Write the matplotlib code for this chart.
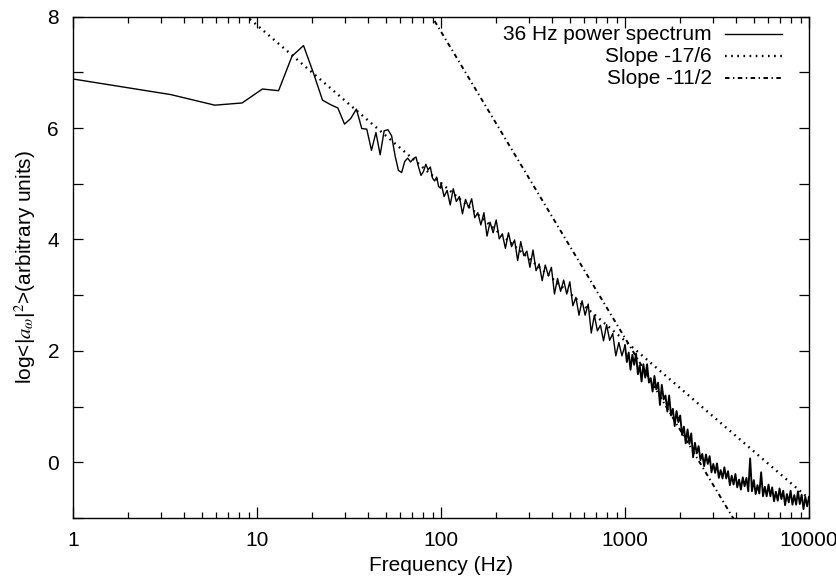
import matplotlib
matplotlib.use('Agg')
import matplotlib.pyplot as plt
from matplotlib.lines import Line2D
from matplotlib.ticker import FixedLocator, NullFormatter, LogLocator
import numpy as np

# ---------------- data ----------------
# low-frequency part of the 36 Hz power spectrum (native resolution ~2.4 Hz)
low_freq = [1.0, 3.4, 5.9, 8.3, 10.7, 13.1, 15.5, 17.9, 20.3, 22.7,
            25.1, 27.5, 29.9, 32.3, 34.7, 37.1, 39.5, 41.9, 44.3, 46.7,
            49.1, 51.5, 53.9, 56.3, 58.7, 61.1, 63.5, 65.9, 68.3, 70.7,
            73.1, 75.5, 77.9, 80.3, 82.7, 85.1, 87.5, 89.9, 92.3, 94.7,
            97.1, 99.5]
low_power = [6.88, 6.60, 6.41, 6.45, 6.70, 6.67, 7.29, 7.48, 6.98, 6.50,
             6.42, 6.36, 6.07, 6.17, 6.34, 5.99, 5.98, 5.60, 5.92, 5.52,
             5.95, 5.97, 5.86, 5.50, 5.24, 5.20, 5.40, 5.46, 5.39, 5.45,
             5.48, 5.30, 5.15, 5.22, 5.35, 5.25, 5.30, 5.10, 5.05, 5.12,
             4.95, 4.92]

# 100 Hz - 1 kHz, read at 60 samples per decade
mid_power = [5.02, 4.77, 4.88, 4.62, 4.91, 4.68, 4.77, 4.46, 4.72, 4.57,
             4.73, 4.39, 4.48, 4.26, 4.48, 4.06, 4.31, 4.12, 4.35, 4.01,
             4.10, 3.84, 4.12, 3.87, 3.99, 3.62, 3.96, 3.71, 3.79, 3.50,
             3.81, 3.44, 3.56, 3.26, 3.54, 3.35, 3.50, 3.02, 3.30, 3.07,
             3.27, 3.02, 3.24, 2.81, 2.96, 2.64, 2.90, 2.64, 2.84, 2.32,
             2.64, 2.36, 2.46, 2.18, 2.47, 2.19, 2.31, 1.91, 2.15, 1.91]

# 1 kHz - 10 kHz, read at 100 samples per decade
high_power = [2.10, 1.80, 1.97, 1.66, 1.93, 1.75, 1.95, 1.58, 1.74, 1.45,
              1.76, 1.52, 1.76, 1.43, 1.51, 1.27, 1.55, 1.31, 1.43, 1.03,
              1.39, 1.13, 1.20, 0.91, 1.20, 0.84, 0.96, 0.65, 0.92, 0.72,
              0.84, 0.49, 0.64, 0.34, 0.59, 0.33, 0.52, 0.09, 0.35, 0.16,
              0.29, 0.04, 0.15, -0.07, 0.14, -0.03, 0.11, -0.18, -0.03, -0.19,
              -0.02, -0.28, -0.14, -0.29, -0.09, -0.29, -0.16, -0.41, -0.24, -0.40,
              -0.21, -0.45, -0.31, -0.49, -0.27, -0.43, -0.28, -0.52, 0.07, -0.52,
              -0.32, -0.57, -0.41, -0.56, -0.18, -0.61, -0.44, -0.61, -0.40, -0.61,
              -0.45, -0.70, -0.53, -0.69, -0.47, -0.66, -0.51, -0.77, -0.57, -0.72,
              -0.51, -0.76, -0.59, -0.76, -0.52, -0.75, -0.58, -0.84, -0.62, -0.79,
              -0.62]

# reference power-law lines:  y = intercept + slope * log10(f)
slope_a, intercept_a = -17.0 / 6.0, 10.68
slope_b, intercept_b = -11.0 / 2.0, 18.73

labels = ["36 Hz power spectrum", "Slope -17/6", "Slope -11/2"]
xticks = [1, 10, 100, 1000, 10000]
xticklabels = ["1", "10", "100", "1000", "10000"]
yticks = [0, 2, 4, 6, 8]

# ---------------- assemble ----------------
mid_freq = np.logspace(2, 3, len(mid_power), endpoint=False)
high_freq = np.logspace(3, 4, len(high_power))
freq_lo = np.concatenate([low_freq, mid_freq, high_freq[:1]])
power_lo = np.concatenate([low_power, mid_power, high_power[:1]])

plt.rcParams['font.family'] = ['Liberation Sans', 'DejaVu Sans']
plt.rcParams['mathtext.fontset'] = 'stix'

W, H = 837, 581
FS = 15
fig = plt.figure(figsize=(W / 100, H / 100), dpi=100)
ax = fig.add_axes([73 / W, 1 - 518 / H, (809 - 73) / W, (518 - 16.6) / H])

# the densely sampled upper band appears heavier in the original
ax.plot(freq_lo, power_lo, color='black', lw=1.0)
ax.plot(high_freq, high_power, color='black', lw=1.35)

dot_style = dict(lw=1.7, linestyle=(0, (0.7, 1.9)))
dashdot_style = dict(lw=1.4, linestyle=(0, (2.3, 1.8, 0.7, 1.8)))

fline = np.array([1.0, 10000.0])
ax.plot(fline, intercept_a + slope_a * np.log10(fline), color='black', **dot_style)
ax.plot(fline, intercept_b + slope_b * np.log10(fline), color='black', **dashdot_style)

ax.set_xscale('log')
ax.set_xlim(1, 10000)
ax.set_ylim(-1, 8)
ax.set_xticks(xticks)
ax.set_xticklabels(xticklabels)
ax.xaxis.set_minor_locator(LogLocator(base=10, subs=np.arange(2, 10)))
ax.xaxis.set_minor_formatter(NullFormatter())
ax.set_yticks(yticks)
ax.yaxis.set_minor_locator(FixedLocator([-1, 1, 3, 5, 7]))

ax.tick_params(which='both', direction='in', top=True, right=True,
               labelsize=FS, width=0.9, color='black')
ax.tick_params(axis='x', which='major', length=8, pad=9)
ax.tick_params(axis='x', which='minor', length=4)
ax.tick_params(axis='y', which='major', length=7, pad=10)
ax.tick_params(axis='y', which='minor', length=7)
for s in ax.spines.values():
    s.set_linewidth(1.0)

ax.set_xlabel('Frequency (Hz)', fontsize=FS, labelpad=5)
ax.set_ylabel(r'log<|$a_\omega$|$^{2}$>(arbitrary units)', fontsize=FS, labelpad=7)

# gnuplot-style key: right-aligned text, sample line to its right
styles = [dict(lw=1.0, linestyle='-'), dot_style, dashdot_style]
for k, (lab, st) in enumerate(zip(labels, styles)):
    yy = 1 - (34 + 22 * k) / H
    fig.text(712 / W, yy, lab, ha='right', va='center', fontsize=FS)
    fig.add_artist(Line2D([725 / W, 782 / W], [yy, yy], color='black',
                          transform=fig.transFigure, **st))

fig.savefig('out.png', dpi=100)
